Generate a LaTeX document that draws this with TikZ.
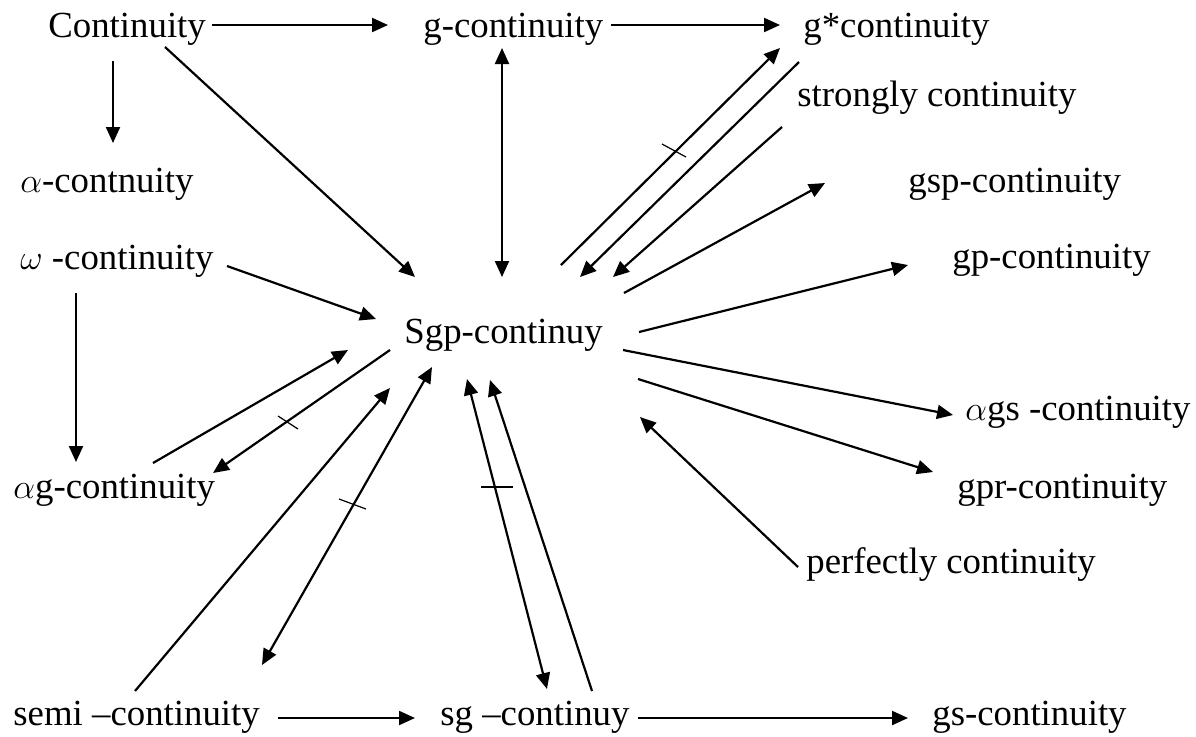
\documentclass[tikz,border=0pt]{standalone}
\usepackage{fontspec}
\setmainfont{Liberation Serif}
\usetikzlibrary{arrows.meta}

\tikzset{
  lbl/.style={anchor=base west, inner sep=0pt, font=\fontsize{18.4}{22}\selectfont},
  imp/.style={-{Triangle[length=8pt,width=7pt]}, line width=1.1pt},
  eqv/.style={{Triangle[length=8pt,width=7pt]}-{Triangle[length=8pt,width=7pt]}, line width=1.1pt},
  notmark/.style={line width=0.6pt}
}

\begin{document}
\begin{tikzpicture}[x=0.5pt, y=-0.5pt]
  \useasboundingbox (0,0) rectangle (1196,736);

  % labels
  \node[lbl] (cont)   at (48,37)   {Continuity};
  \node[lbl] (gcont)  at (423,37)  {g-continuity};
  \node[lbl] (gstar)  at (803,37)  {g*continuity};
  \node[lbl] (strong) at (797,106) {strongly continuity};
  \node[lbl] (alpha)  at (20,192)  {$\alpha$-contnuity};
  \node[lbl] (gsp)    at (908,192) {gsp-continuity};
  \node[lbl] (omega)  at (20,269)  {$\omega$ -continuity};
  \node[lbl] (gp)     at (952,268) {gp-continuity};
  \node[lbl] (sgp)    at (404,343) {Sgp-continuy};
  \node[lbl] (alphags) at (965,420) {$\alpha$gs -continuity};
  \node[lbl] (alphag) at (13,498)  {$\alpha$g-continuity};
  \node[lbl] (gpr)    at (957,498) {gpr-continuity};
  \node[lbl] (perf)   at (806,573) {perfectly continuity};
  \node[lbl] (semi)   at (13,725)  {semi –continuity};
  \node[lbl] (sg)     at (440,725) {sg –continuy};
  \node[lbl] (gs)     at (932,725) {gs-continuity};

  % arrow ends
  \coordinate (cont-g1) at (212,25);   \coordinate (cont-g2) at (388,25);
  \coordinate (g-gstar1) at (611,25);  \coordinate (g-gstar2) at (780,25);
  \coordinate (cont-a1) at (113,61);   \coordinate (cont-a2) at (113,143);
  \coordinate (cont-s1) at (165,47);   \coordinate (cont-s2) at (415,277);
  \coordinate (om-s1) at (227,266);    \coordinate (om-s2) at (376,319);
  \coordinate (om-ag1) at (76,293);    \coordinate (om-ag2) at (76,462);
  \coordinate (ag-s1) at (153,463);    \coordinate (ag-s2) at (348,350);
  \coordinate (s-ag1) at (390,350);    \coordinate (s-ag2) at (213,473);
  \coordinate (semi-s1) at (135,691);  \coordinate (semi-s2) at (390,388);
  \coordinate (s-semi1) at (432,367);  \coordinate (s-semi2) at (262,665);
  \coordinate (s-sg1) at (467,379);    \coordinate (s-sg2) at (547,689);
  \coordinate (sg-s1) at (592,691);    \coordinate (sg-s2) at (490,380);
  \coordinate (semi-sg1) at (278,718); \coordinate (semi-sg2) at (415,718);
  \coordinate (sg-gs1) at (638,718);   \coordinate (sg-gs2) at (908,718);
  \coordinate (g-s1) at (502,48);      \coordinate (g-s2) at (502,277);
  \coordinate (s-gstar1) at (561,265); \coordinate (s-gstar2) at (780,48);
  \coordinate (gstar-s1) at (799,62);  \coordinate (gstar-s2) at (580,277);
  \coordinate (str-s1) at (782,127);   \coordinate (str-s2) at (613,277);
  \coordinate (s-gsp1) at (624,293);   \coordinate (s-gsp2) at (825,183);
  \coordinate (s-gp1) at (639,332);    \coordinate (s-gp2) at (908,265);
  \coordinate (s-ags1) at (623,350);   \coordinate (s-ags2) at (953,415);
  \coordinate (s-gpr1) at (638,379);   \coordinate (s-gpr2) at (933,472);
  \coordinate (perf-s1) at (798,567);  \coordinate (perf-s2) at (640,417);

  % implications
  \draw[imp] (cont-g1) -- (cont-g2);
  \draw[imp] (g-gstar1) -- (g-gstar2);
  \draw[imp] (cont-a1) -- (cont-a2);
  \draw[imp] (cont-s1) -- (cont-s2);
  \draw[imp] (om-s1) -- (om-s2);
  \draw[imp] (om-ag1) -- (om-ag2);
  \draw[imp] (ag-s1) -- (ag-s2);
  \draw[imp] (s-ag1) -- (s-ag2);
  \draw[imp] (semi-s1) -- (semi-s2);
  \draw[eqv] (s-semi1) -- (s-semi2);
  \draw[eqv] (s-sg1) -- (s-sg2);
  \draw[imp] (sg-s1) -- (sg-s2);
  \draw[imp] (semi-sg1) -- (semi-sg2);
  \draw[imp] (sg-gs1) -- (sg-gs2);
  \draw[eqv] (g-s1) -- (g-s2);
  \draw[imp] (s-gstar1) -- (s-gstar2);
  \draw[imp] (gstar-s1) -- (gstar-s2);
  \draw[imp] (str-s1) -- (str-s2);
  \draw[imp] (s-gsp1) -- (s-gsp2);
  \draw[imp] (s-gp1) -- (s-gp2);
  \draw[imp] (s-ags1) -- (s-ags2);
  \draw[imp] (s-gpr1) -- (s-gpr2);
  \draw[imp] (perf-s1) -- (perf-s2);

  % non-implication marks
  \draw[notmark] (662,144) -- (686,157);
  \draw[notmark] (278,416) -- (298,429);
  \draw[notmark] (339,499) -- (366,509);
  \draw[notmark] (481,487) -- (513,487);
\end{tikzpicture}
\end{document}
